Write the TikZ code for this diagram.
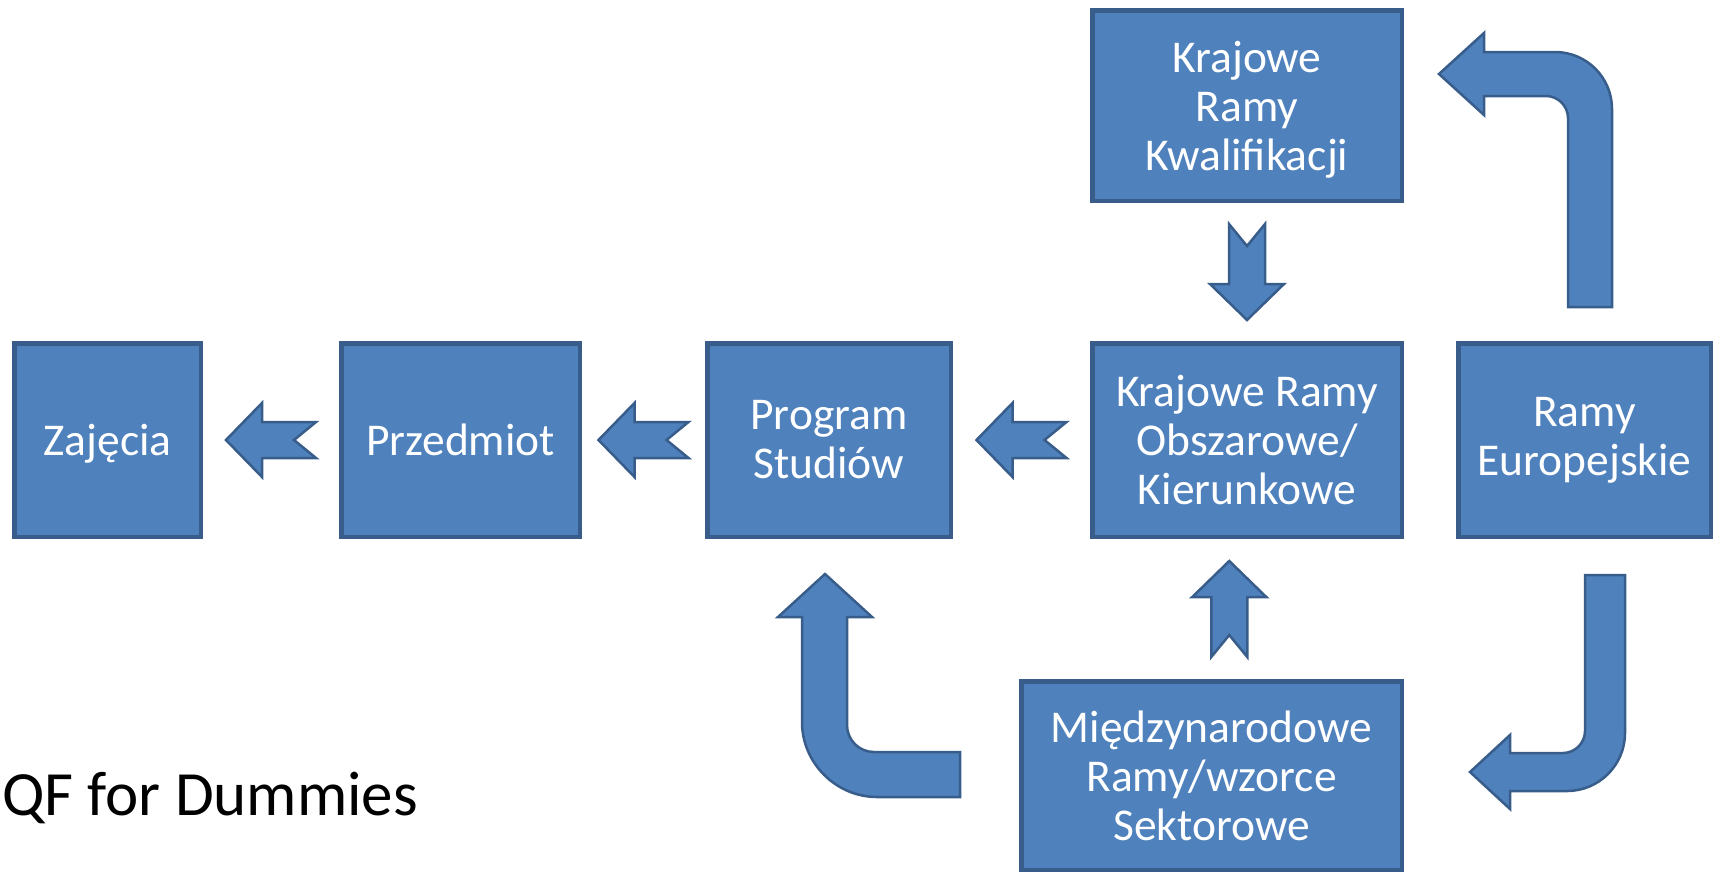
\documentclass[tikz,border=0pt]{standalone}
\usepackage{fontspec}
\setmainfont{Carlito}
\usetikzlibrary{calc}
\definecolor{qffill}{HTML}{4F81BD}
\definecolor{qfline}{HTML}{385D8A}
\tikzset{
  qfbox/.style={draw=qfline, fill=qffill, line width=4.5pt, text=white, align=center,
    inner sep=0pt, font=\fontsize{45.5}{49}\selectfont},
  blockarrow/.style={draw=qfline, fill=qffill, line width=2.5pt, line join=miter},
  qf len/.store in=\qflen, qf len=45,
  notcharrow/.pic={\path[blockarrow] (\qflen,0) -- (\qflen-36,37) -- (\qflen-36,18)
    -- (-\qflen,18) -- (-\qflen+22,0) -- (-\qflen,-18) -- (\qflen-36,-18)
    -- (\qflen-36,-37) -- cycle;}
}
\begin{document}
\begin{tikzpicture}[x=1pt,y=-1pt]
\useasboundingbox (0,0) rectangle (1715,873);
% boxes
\node[qfbox, minimum width=186.5pt, minimum height=193.5pt, text depth=0pt] (zaj) at (107.5,440) {Zajęcia};
\node[qfbox, minimum width=238.5pt, minimum height=193.5pt] (przed) at (460.5,440) {Przedmiot};
\node[qfbox, minimum width=243.5pt, minimum height=193.5pt] (prog) at (829,440) {Program\\Studiów};
\node[qfbox, minimum width=309.5pt, minimum height=193.5pt] (kro) at (1247,440) {Krajowe Ramy\\Obszarowe/\\Kierunkowe};
\node[qfbox, minimum width=252.5pt, minimum height=193.5pt] (re) at (1584.5,440) {Ramy\\Europejskie};
\node[qfbox, minimum width=309.5pt, minimum height=190.5pt, text depth=0pt] (krk) at (1247,105.5) {Krajowe\\Ramy\\Kwalifikacji};
\node[qfbox, minimum width=380.5pt, minimum height=188.5pt] (mr) at (1211.5,775.5) {Międzynarodowe\\Ramy/wzorce\\Sektorowe};
\node[anchor=base west, inner sep=0pt, font=\fontsize{63}{75}\selectfont] (qf) at (2,815) {QF for Dummies};
% straight arrows
\pic[rotate=180] at ($(zaj.east)!0.5!(przed.west)$) {notcharrow};
\pic[rotate=180] at ($(przed.east)!0.5!(prog.west)$) {notcharrow};
\pic[rotate=180] at ($(prog.east)!0.5!(kro.west)$) {notcharrow};
\pic[rotate=-90, qf len=48] at ($(krk.south)!0.5!(kro.north)$) {notcharrow};
\pic[rotate=90, qf len=48] at ($(mr.north)!0.5!(kro.south)$) {notcharrow};
% bent arrows
\path[blockarrow] (1568,307) -- (1568,118) .. controls (1568,106) and (1558,96) .. (1546,96)
  -- (1484,96) -- (1484,115) -- (1439,74) -- (1484,33) -- (1484,52) -- (1555,52)
  .. controls (1586.5,52) and (1612,77.5) .. (1612,109) -- (1612,307) -- cycle;
\path[blockarrow] (1585,575) -- (1585,731) .. controls (1585,743) and (1575,753) .. (1563,753)
  -- (1510,753) -- (1510,735) -- (1470,772) -- (1510,809) -- (1510,791) -- (1567,791)
  .. controls (1599,791) and (1625,765) .. (1625,733) -- (1625,575) -- cycle;
\path[blockarrow] (960,752) -- (874,752) .. controls (859,752) and (847,740) .. (847,725)
  -- (847,617) -- (872,617) -- (825,574) -- (778,617) -- (802,617) -- (802,722)
  .. controls (802,763) and (836,797) .. (877,797) -- (960,797) -- cycle;
\end{tikzpicture}
\end{document}
